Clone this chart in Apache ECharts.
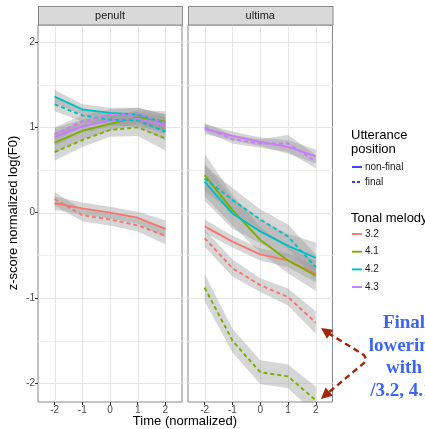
<!DOCTYPE html>
<html>
<head>
<meta charset="utf-8">
<script src="https://cdn.jsdelivr.net/npm/echarts@6/dist/echarts.min.js"></script>
<style>
  html, body { margin: 0; padding: 0; background: #fff; }
  #chart { width: 425px; height: 429px; }
</style>
</head>
<body>
<div id="chart"></div>
<script>
// ------------------------------------------------------------------
// data
// ------------------------------------------------------------------
const times = [-2, -1, 0, 1, 2];
const panels = ['penult', 'ultima'];
const melodies = ['3.2', '4.1', '4.2', '4.3'];
const yTicks = [-2, -1, 0, 1, 2];

// rows follow melodies: 3.2, 4.1, 4.2, 4.3
const penultNonFinal = [
  [0.11, 0.05, 0.00, -0.06, -0.19],
  [0.82, 0.96, 1.04, 1.12, 1.07],
  [1.36, 1.21, 1.17, 1.15, 1.05],
  [0.89, 1.01, 1.08, 1.10, 1.02],
];
const penultFinal = [
  [0.16, -0.03, -0.08, -0.15, -0.27],
  [0.71, 0.85, 0.97, 1.00, 0.87],
  [1.27, 1.14, 1.09, 1.08, 0.95],
  [0.92, 1.07, 1.15, 1.16, 1.05],
];
const ultimaNonFinal = [
  [-0.16, -0.34, -0.49, -0.56, -0.72],
  [0.44, 0.03, -0.32, -0.56, -0.74],
  [0.36, -0.01, -0.22, -0.39, -0.53],
  [0.98, 0.90, 0.83, 0.77, 0.66],
];
const ultimaFinal = [
  [-0.30, -0.65, -0.85, -0.99, -1.29],
  [-0.88, -1.50, -1.87, -1.92, -2.20],
  [0.40, 0.15, -0.08, -0.28, -0.64],
  [1.00, 0.86, 0.81, 0.81, 0.60],
];

// confidence band half-widths, same layout
const penultNonFinalBand = [
  [0.08, 0.07, 0.07, 0.07, 0.10],
  [0.12, 0.10, 0.08, 0.08, 0.12],
  [0.08, 0.06, 0.06, 0.08, 0.10],
  [0.10, 0.08, 0.07, 0.08, 0.10],
];
const penultFinalBand = [
  [0.08, 0.07, 0.07, 0.07, 0.10],
  [0.10, 0.08, 0.08, 0.10, 0.14],
  [0.08, 0.07, 0.06, 0.08, 0.10],
  [0.08, 0.07, 0.06, 0.07, 0.10],
];
const ultimaNonFinalBand = [
  [0.08, 0.07, 0.07, 0.08, 0.10],
  [0.25, 0.18, 0.15, 0.15, 0.18],
  [0.22, 0.18, 0.14, 0.14, 0.18],
  [0.06, 0.05, 0.05, 0.08, 0.08],
];
const ultimaFinalBand = [
  [0.10, 0.10, 0.08, 0.10, 0.13],
  [0.16, 0.14, 0.14, 0.14, 0.16],
  [0.15, 0.14, 0.12, 0.14, 0.15],
  [0.05, 0.05, 0.05, 0.10, 0.08],
];

// ------------------------------------------------------------------
// styles
// ------------------------------------------------------------------
const melodyColors = ['#F8766D', '#7CAE00', '#00BFC4', '#C77CFF'];
const dashPattern = [4, 3];
const bandFill = 'rgba(153,153,153,0.4)';
const gridMajor = '#e6e6e6';
const gridMinor = '#efefef';
const arrowColor = '#a3240b';
const noteColor = '#3c66f2';

const X_MIN = -2.6, X_MAX = 2.6, Y_MIN = -2.22, Y_MAX = 2.2;
const gridBoxes = [
  { left: 38, top: 25, width: 144, height: 377 },
  { left: 188, top: 25, width: 144.5, height: 377 },
];

const panelData = [
  [[penultNonFinal, penultNonFinalBand], [penultFinal, penultFinalBand]],
  [[ultimaNonFinal, ultimaNonFinalBand], [ultimaFinal, ultimaFinalBand]],
];

// ------------------------------------------------------------------
// series
// ------------------------------------------------------------------
const series = [];

function gridSeries(g) {
  const yLines = [];
  for (let v = -2; v <= 2; v += 0.5) yLines.push(v);
  return {
    type: 'custom',
    xAxisIndex: g, yAxisIndex: g,
    z: 1, silent: true, animation: false,
    data: [0],
    renderItem(params, api) {
      const kids = [];
      yLines.forEach((v) => {
        const a = api.coord([X_MIN, v]), b = api.coord([X_MAX, v]);
        kids.push({
          type: 'line',
          shape: { x1: a[0], y1: Math.round(a[1]) + 0.5, x2: b[0], y2: Math.round(b[1]) + 0.5 },
          style: { stroke: Number.isInteger(v) ? gridMajor : gridMinor, lineWidth: 1 },
        });
      });
      times.forEach((t) => {
        const a = api.coord([t, Y_MIN]), b = api.coord([t, Y_MAX]);
        kids.push({
          type: 'line',
          shape: { x1: Math.round(a[0]) + 0.5, y1: a[1], x2: Math.round(b[0]) + 0.5, y2: b[1] },
          style: { stroke: gridMajor, lineWidth: 1 },
        });
      });
      return { type: 'group', children: kids };
    },
  };
}

function ribbonSeries(g, vals, band) {
  return {
    type: 'custom',
    xAxisIndex: g, yAxisIndex: g,
    z: 2, silent: true, animation: false, clip: true,
    data: [0],
    renderItem(params, api) {
      const upper = times.map((t, i) => api.coord([t, vals[i] + band[i]]));
      const lower = times.map((t, i) => api.coord([t, vals[i] - band[i]])).reverse();
      return {
        type: 'polygon',
        shape: { points: upper.concat(lower) },
        style: { fill: bandFill },
      };
    },
  };
}

panels.forEach((p, g) => {
  series.push(gridSeries(g));
  panelData[g].forEach(([rows, bands]) => {
    rows.forEach((vals, m) => series.push(ribbonSeries(g, vals, bands[m])));
  });
  panelData[g].forEach(([rows], pos) => {
    rows.forEach((vals, m) => {
      series.push({
        name: melodies[m],
        type: 'line',
        xAxisIndex: g, yAxisIndex: g,
        z: 3, silent: true, animation: false,
        symbol: 'none',
        data: times.map((t, i) => [t, vals[i]]),
        lineStyle: {
          color: melodyColors[m],
          width: 1.9,
          type: pos === 0 ? 'solid' : dashPattern,
        },
      });
    });
  });
});

// ------------------------------------------------------------------
// axes
// ------------------------------------------------------------------
const xAxes = gridBoxes.map((b, g) => ({
  type: 'value', gridIndex: g, min: X_MIN, max: X_MAX, position: 'bottom',
  axisLine: { show: false, onZero: false },
  splitLine: { show: false },
  axisTick: { show: true, length: 3, lineStyle: { color: '#333' }, customValues: times },
  axisLabel: { color: '#4d4d4d', fontSize: 10, margin: 3, customValues: times,
               fontFamily: 'Liberation Sans' },
}));
const yAxes = gridBoxes.map((b, g) => ({
  type: 'value', gridIndex: g, min: Y_MIN, max: Y_MAX, position: 'left',
  axisLine: { show: false, onZero: false },
  splitLine: { show: false },
  axisTick: { show: g === 0, length: 3, lineStyle: { color: '#333' }, customValues: yTicks },
  axisLabel: { show: g === 0, color: '#4d4d4d', fontSize: 10, margin: 3, customValues: yTicks,
               fontFamily: 'Liberation Sans' },
}));

// ------------------------------------------------------------------
// decorations: strips, titles, legend, note, arrows
// ------------------------------------------------------------------
const graphics = [];
gridBoxes.forEach((b, g) => {
  graphics.push({
    type: 'rect', z: 10,
    shape: { x: b.left + 0.5, y: 6.5, width: b.width, height: 18.5 },
    style: { fill: '#d9d9d9', stroke: '#888', lineWidth: 1 },
  });
  graphics.push({
    type: 'text', z: 11,
    x: b.left + b.width / 2, y: 16,
    style: { text: panels[g], fill: '#1a1a1a', font: '11px "Liberation Sans"',
             align: 'center', verticalAlign: 'middle' },
  });
});

graphics.push({
  type: 'text', z: 10, x: 185, y: 421,
  style: { text: 'Time (normalized)', fill: '#000', font: '13px "Liberation Sans"',
           align: 'center', verticalAlign: 'middle' },
});
graphics.push({
  type: 'text', z: 10, x: 13, y: 213, rotation: Math.PI / 2,
  style: { text: 'z-score normalized log(F0)', fill: '#000', font: '13px "Liberation Sans"',
           align: 'center', verticalAlign: 'middle' },
});

// legend
const legendFont = '10px "Liberation Sans"';
const titleFont = '13px "Liberation Sans"';
graphics.push({
  type: 'text', z: 10, x: 351, y: 135,
  style: { text: 'Utterance', fill: '#000', font: titleFont, verticalAlign: 'middle' },
});
graphics.push({
  type: 'text', z: 10, x: 351, y: 149,
  style: { text: 'position', fill: '#000', font: titleFont, verticalAlign: 'middle' },
});
[['non-final', 'solid', 167], ['final', dashPattern, 182]].forEach(([label, dash, y]) => {
  graphics.push({
    type: 'line', z: 10,
    shape: { x1: 352, y1: y, x2: 362, y2: y },
    style: { stroke: '#3a3aff', lineWidth: 1.9, lineDash: dash === 'solid' ? null : [3, 2] },
  });
  graphics.push({
    type: 'text', z: 10, x: 365, y: y,
    style: { text: label, fill: '#1a1a1a', font: legendFont, verticalAlign: 'middle' },
  });
});
graphics.push({
  type: 'text', z: 10, x: 351, y: 218,
  style: { text: 'Tonal melody', fill: '#000', font: titleFont, verticalAlign: 'middle' },
});
melodies.forEach((m, i) => {
  const y = 234 + i * 17.7;
  graphics.push({
    type: 'line', z: 10,
    shape: { x1: 352, y1: y, x2: 362, y2: y },
    style: { stroke: melodyColors[i], lineWidth: 1.9 },
  });
  graphics.push({
    type: 'text', z: 10, x: 365, y: y,
    style: { text: m, fill: '#1a1a1a', font: legendFont, verticalAlign: 'middle' },
  });
});

// note
['Final', 'lowering', 'with', '/3.2, 4.1/'].forEach((line, i) => {
  graphics.push({
    type: 'text', z: 10, x: 404, y: 323 + i * 22.7,
    style: { text: line, fill: noteColor, font: 'bold 19px "Liberation Serif"',
             align: 'center', verticalAlign: 'middle' },
  });
});

// arrows
function arrowHead(tip, from) {
  const dx = tip[0] - from[0], dy = tip[1] - from[1];
  const len = Math.hypot(dx, dy), ux = dx / len, uy = dy / len;
  const L = 11, W = 5.5;
  const bx = tip[0] - ux * L, by = tip[1] - uy * L;
  return {
    type: 'polygon', z: 10,
    shape: { points: [tip, [bx - uy * W, by + ux * W], [bx + uy * W, by - ux * W]] },
    style: { fill: arrowColor },
  };
}
const vertex = [366, 359];
const tip1 = [321, 328], tip2 = [321, 399];
graphics.push({
  type: 'polyline', z: 10,
  shape: { points: [[328, 333], [364, 355], [366, 359], [364, 363], [328, 393]] },
  style: { stroke: arrowColor, lineWidth: 2.4, lineDash: [6, 4], fill: null },
});
graphics.push(arrowHead(tip1, vertex));
graphics.push(arrowHead(tip2, vertex));

// ------------------------------------------------------------------
// chart
// ------------------------------------------------------------------
const chart = echarts.init(document.getElementById('chart'), null, { renderer: 'canvas' });
chart.setOption({
  animation: false,
  backgroundColor: '#fff',
  textStyle: { fontFamily: 'Liberation Sans' },
  grid: gridBoxes.map((b) => ({
    left: b.left, top: b.top, width: b.width, height: b.height,
    show: true, borderColor: '#888', borderWidth: 1, backgroundColor: '#fff',
    containLabel: false,
  })),
  xAxis: xAxes,
  yAxis: yAxes,
  series: series,
  graphic: graphics,
});
</script>
</body>
</html>
